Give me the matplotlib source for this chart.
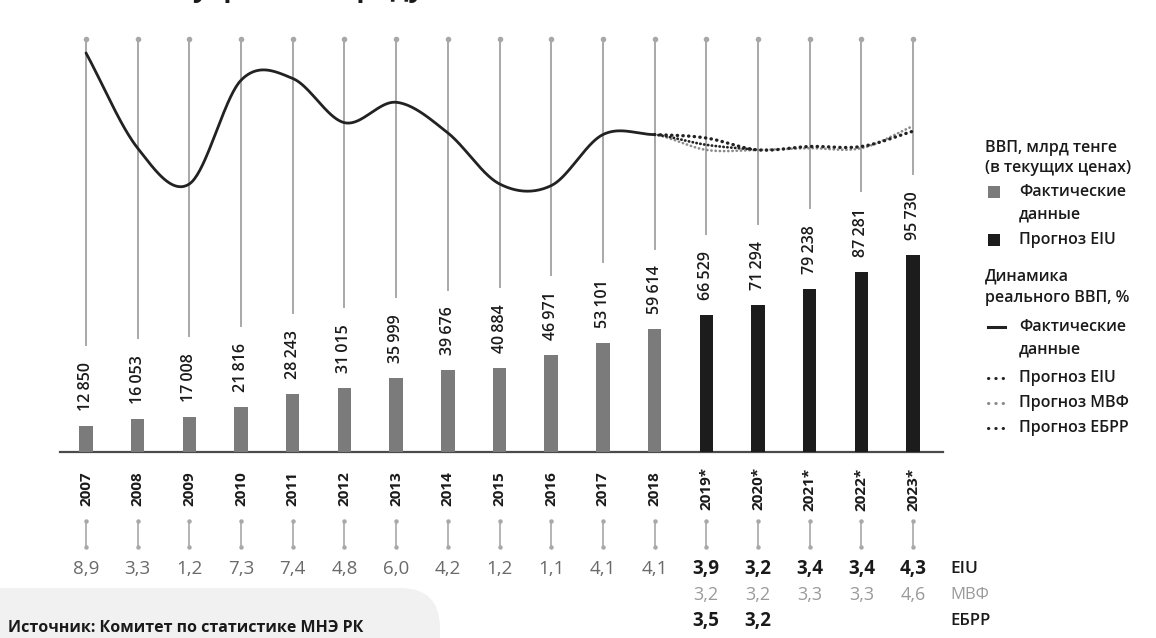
import numpy as np
import matplotlib.pyplot as plt
import matplotlib.transforms as mtransforms
from matplotlib.patches import FancyBboxPatch, Rectangle
from matplotlib.lines import Line2D

plt.rcParams['font.family'] = ['Open Sans', 'DejaVu Sans']

# --- data ---
years = ['2007', '2008', '2009', '2010', '2011', '2012', '2013', '2014', '2015',
         '2016', '2017', '2018', '2019*', '2020*', '2021*', '2022*', '2023*']
gdp = [12850, 16053, 17008, 21816, 28243, 31015, 35999, 39676, 40884,
       46971, 53101, 59614, 66529, 71294, 79238, 87281, 95730]
n_fact = 12  # 2007-2018 actual, rest EIU forecast

growth_fact = [8.9, 3.3, 1.2, 7.3, 7.4, 4.8, 6.0, 4.2, 1.2, 1.1, 4.1, 4.1]
growth_eiu = [3.9, 3.2, 3.4, 3.4, 4.3]
growth_imf = [3.2, 3.2, 3.3, 3.3, 4.6]
growth_ebrd = [3.5, 3.2]


def fmt(v, dec=False):
    if dec:
        return f"{v:.1f}".replace('.', ',')
    return f"{v:,}".replace(',', '\u2009')


def smooth(xv, yv, n=40):
    # Catmull-Rom curve through the points (drawing only)
    xv = np.asarray(xv, float)
    yv = np.asarray(yv, float)
    m = len(yv)
    d = np.zeros(m)
    d[1:-1] = (yv[2:] - yv[:-2]) / 2
    d[0] = yv[1] - yv[0]
    d[-1] = yv[-1] - yv[-2]
    xs, ys = [], []
    for i in range(m - 1):
        t = np.linspace(0, 1, n)
        h00 = 2 * t**3 - 3 * t**2 + 1
        h10 = t**3 - 2 * t**2 + t
        h01 = -2 * t**3 + 3 * t**2
        h11 = t**3 - t**2
        xs.append(xv[i] + t * (xv[i + 1] - xv[i]))
        ys.append(h00 * yv[i] + h10 * d[i] + h01 * yv[i + 1] + h11 * d[i + 1])
    return np.concatenate(xs), np.concatenate(ys)


W, H = 1156, 638
fig = plt.figure(figsize=(W / 100, H / 100), dpi=100)

# full-figure layer in pixel units for the free text
lay = fig.add_axes([0, 0, 1, 1])
lay.set_xlim(0, W)
lay.set_ylim(H, 0)
lay.axis('off')

ax = fig.add_axes([60 / W, (H - 452) / H, (943 - 60) / W, (452 - 39) / H])
ax.patch.set_alpha(0)
x = np.arange(len(years))
ax.set_xlim(-0.503, 16.58)
ax.set_ylim(0, 200680)
for s in ['top', 'left', 'right']:
    ax.spines[s].set_visible(False)
ax.spines['bottom'].set_color('#4a4a4a')
ax.spines['bottom'].set_linewidth(1.6)
ax.set_xticks([])
ax.set_yticks([])

GRAY_BAR = '#7b7b7b'
BLACK = '#1c1c1c'
GRID = '#a8a8a8'

colors = [GRAY_BAR] * n_fact + [BLACK] * (len(gdp) - n_fact)
ax.bar(x, gdp, width=0.26, color=colors, zorder=3)

labels = []
for i, v in enumerate(gdp):
    t = ax.annotate(fmt(v), (x[i], v), xytext=(0, 15), textcoords='offset pixels',
                    rotation=90, ha='center', va='bottom', fontsize=11.5,
                    fontweight='semibold', color='#1a1a1a', zorder=4)
    labels.append(t)

# growth line on its own scale
ax2 = ax.twinx()
ax2.set_ylim(-14.56, 9.72)
ax2.axis('off')

xf, yf = smooth(x[:n_fact], growth_fact)
ax2.plot(xf, yf, color='#222222', lw=2.0, solid_capstyle='round', zorder=5)

for vals, col, lw, ls in [
        (growth_imf, '#8a8a8a', 1.9, (0, (0.1, 1.5))),
        (growth_ebrd, '#222222', 2.0, (0, (0.1, 1.3))),
        (growth_eiu, '#222222', 2.4, (0, (0.1, 1.6)))]:
    allv = growth_fact + vals
    xs, ys = smooth(x[:len(allv)], allv)
    keep = xs >= n_fact - 1
    ax2.plot(xs[keep], ys[keep], color=col, lw=lw, linestyle=ls,
             dash_capstyle='round', zorder=5)

# vertical guide lines down to the bar labels
fig.canvas.draw()
rend = fig.canvas.get_renderer()
inv = ax.transData.inverted()
top = ax.get_ylim()[1]
for i, t in enumerate(labels):
    bb = t.get_window_extent(rend)
    yend = inv.transform((0, bb.y1 + 17))[1]
    ax.plot([x[i], x[i]], [yend, top], color=GRID, lw=1.4, zorder=1, clip_on=False)
ax.plot(x, [top] * len(x), 'o', color=GRID, ms=3, clip_on=False, zorder=1)

# below the axis: years, small connectors, growth rows
bt = mtransforms.blended_transform_factory(ax.transData, lay.transData)
for i, yr in enumerate(years):
    ax.text(x[i], 489, yr, transform=bt, rotation=90, ha='center', va='center',
            fontsize=11, fontweight='bold', color='#1a1a1a')
    ax.plot([x[i], x[i]], [521, 547], color=GRID, lw=1.2, transform=bt, clip_on=False)
    ax.plot([x[i], x[i]], [521, 547], 'o', color=GRID, ms=2.2, transform=bt, clip_on=False)

for i, v in enumerate(growth_fact):
    ax.text(x[i], 569, fmt(v, True), transform=bt, ha='center', va='center',
            fontsize=13.5, color='#6a6a6a')
for k, v in enumerate(growth_eiu):
    ax.text(x[n_fact + k], 569, fmt(v, True), transform=bt, ha='center', va='center',
            fontsize=13.5, fontweight='bold', color='#1a1a1a')
for k, v in enumerate(growth_imf):
    ax.text(x[n_fact + k], 595, fmt(v, True), transform=bt, ha='center', va='center',
            fontsize=13, color='#9a9a9a')
for k, v in enumerate(growth_ebrd):
    ax.text(x[n_fact + k], 621, fmt(v, True), transform=bt, ha='center', va='center',
            fontsize=13.5, fontweight='bold', color='#1a1a1a')
lay.text(950, 569, 'EIU', ha='left', va='center', fontsize=12.5, fontweight='semibold', color='#1a1a1a')
lay.text(950, 595, 'МВФ', ha='left', va='center', fontsize=12, color='#9a9a9a')
lay.text(950, 621, 'ЕБРР', ha='left', va='center', fontsize=12, fontweight='semibold', color='#1a1a1a')

# source box
lay.add_patch(FancyBboxPatch((-40, 588), 480, 100, boxstyle='round,pad=0,rounding_size=40',
                             facecolor='#f1f1f1', edgecolor='none', zorder=0))
lay.text(8, 628, 'Источник: Комитет по статистике МНЭ РК', ha='left', va='center',
         fontsize=11.5, fontweight='bold', color='#1a1a1a', zorder=2)

# title (cut off by the top edge in the original)
lay.text(28, -3, 'Валовой внутренний продукт', ha='left', va='baseline',
         fontsize=19.5, fontweight='bold', color='#1a1a1a', clip_on=False)

# legend
lg = dict(ha='left', va='center', fontsize=11.5, fontweight='semibold', color='#1a1a1a')
lay.text(985, 148, 'ВВП, млрд тенге', **lg)
lay.text(985, 168, '(в текущих ценах)', **lg)
lay.add_patch(Rectangle((988, 186), 12, 12, facecolor=GRAY_BAR, edgecolor='none'))
lay.text(1019, 192, 'Фактические', **lg)
lay.text(1019, 215, 'данные', **lg)
lay.add_patch(Rectangle((988, 234), 12, 12, facecolor=BLACK, edgecolor='none'))
lay.text(1019, 240, 'Прогноз EIU', **lg)
lay.text(985, 277, 'Динамика', **lg)
lay.text(985, 298, 'реального ВВП, %', **lg)
lay.add_line(Line2D([988, 1005], [327, 327], color='#222222', lw=2.2))
lay.text(1019, 327, 'Фактические', **lg)
lay.text(1019, 350, 'данные', **lg)
for yy, col in [(378, '#222222'), (403, '#8a8a8a'), (428, '#222222')]:
    lay.add_line(Line2D([988, 1003], [yy, yy], color=col, lw=2.2,
                        linestyle=(0, (0.1, 2.3)), dash_capstyle='round'))
lay.text(1019, 378, 'Прогноз EIU', **lg)
lay.text(1019, 403, 'Прогноз МВФ', **lg)
lay.text(1019, 428, 'Прогноз ЕБРР', **lg)

fig.savefig('out.png', dpi=100)
